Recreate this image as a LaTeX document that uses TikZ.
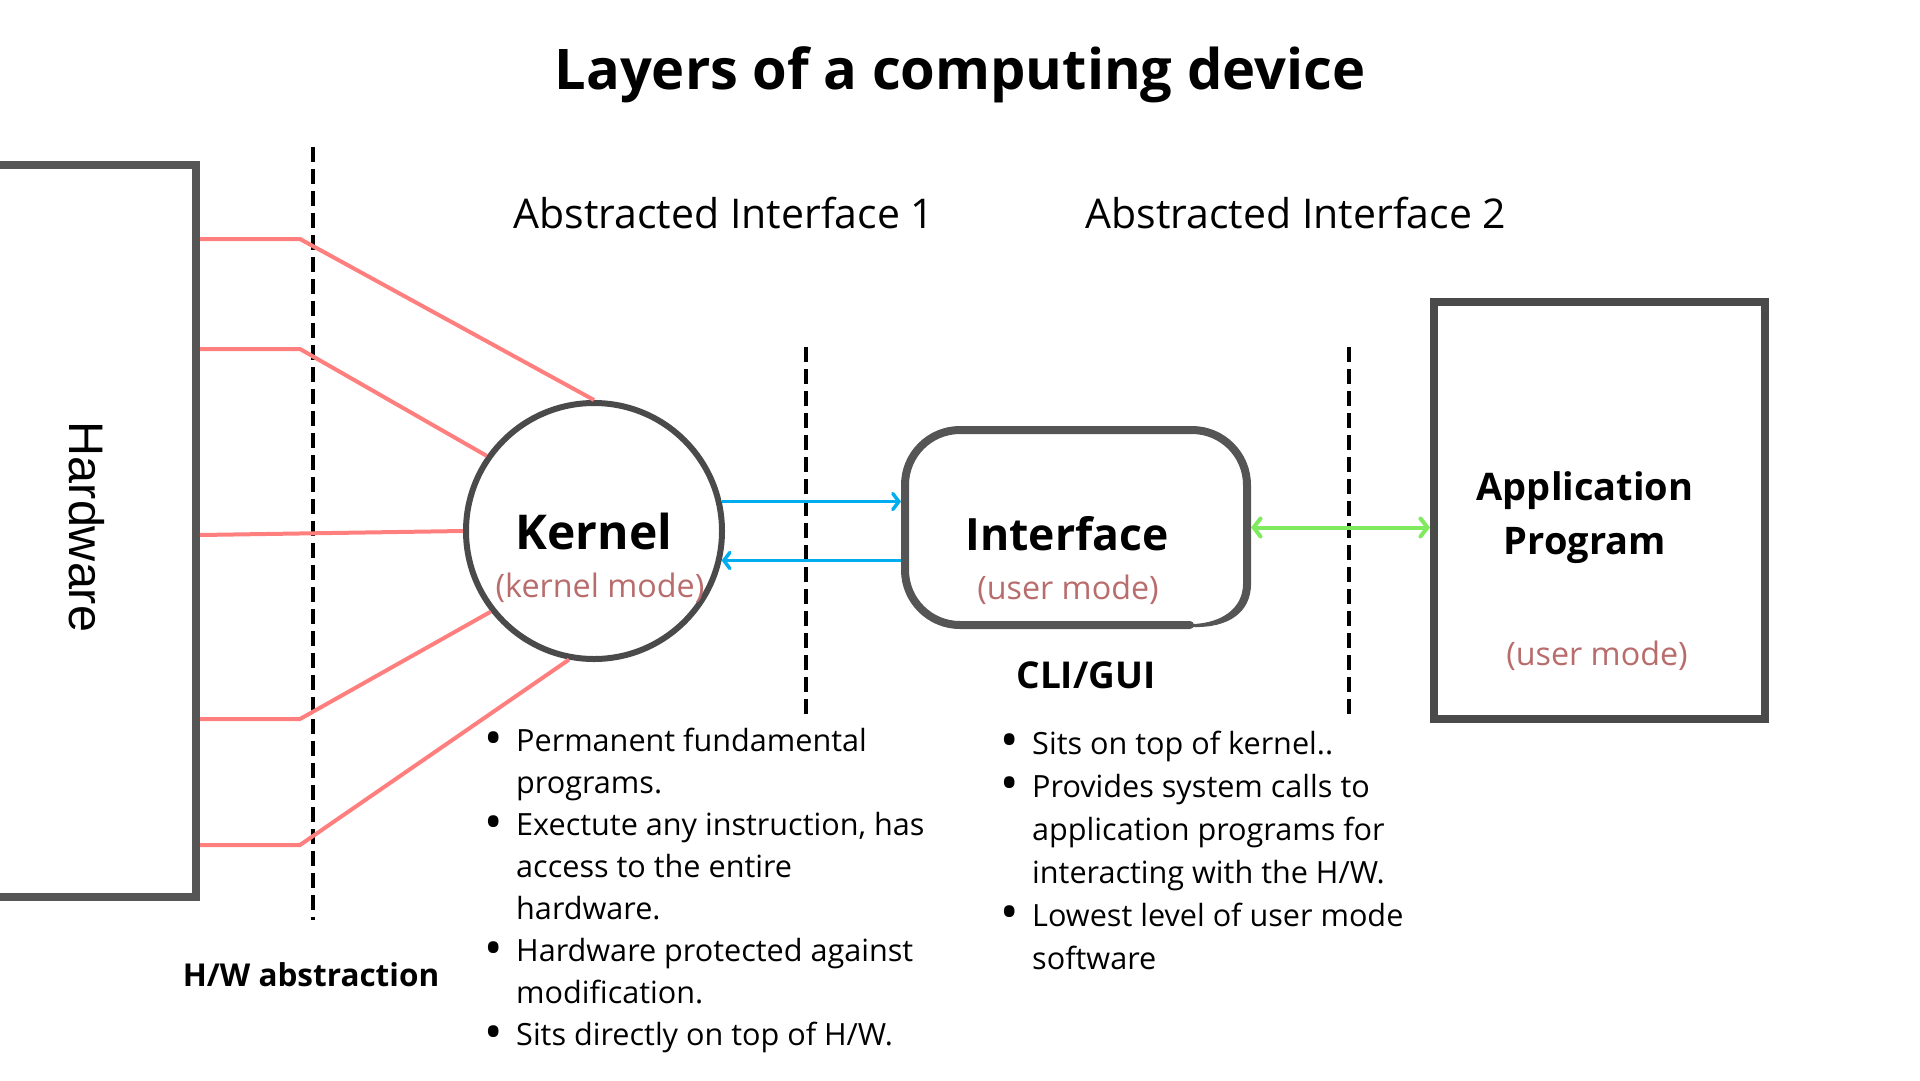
\documentclass[tikz,border=0pt]{standalone}
\usepackage{fontspec}
\setmainfont{Open Sans}
\newfontfamily\hwfont{Liberation Sans}
\usetikzlibrary{arrows.meta}
\definecolor{redl}{HTML}{FF7F7F}
\definecolor{grayA}{HTML}{4A4A4A}
\definecolor{grayB}{HTML}{555555}
\definecolor{bluel}{HTML}{00AEEF}
\definecolor{greenl}{HTML}{7FEA5E}
\definecolor{rose}{HTML}{B86C6C}
\newcommand{\bigbul}{\makebox[18pt]{\raisebox{-3.5pt}{\scalebox{1.6}{\textbullet}}}}
\begin{document}
\begin{tikzpicture}[x=1pt,y=-1pt,
  redline/.style={draw=redl,line width=4pt},
  dashline/.style={draw=black,line width=4pt,dash pattern=on 15pt off 7pt},
  bluearrow/.style={draw=bluel,line width=3.5pt,-{Straight Barb[length=6pt,width=16pt,line cap=round]}},
  greenarrow/.style={draw=greenl,line width=4pt,{Straight Barb[length=7pt,width=18pt,line cap=round]}-{Straight Barb[length=7pt,width=18pt,line cap=round]}},
  titletext/.style={font=\bfseries\fontsize{56}{60}\selectfont,anchor=base},
  abstext/.style={font=\fontsize{41}{46}\selectfont,anchor=base},
  modetext/.style={font=\fontsize{32.3}{36}\selectfont,text=rose,anchor=base},
  smallbold/.style={font=\bfseries\fontsize{31.5}{36}\selectfont,anchor=base},
  bullets/.style={anchor=north west,inner sep=0pt,align=left},
]
\useasboundingbox (0,0) rectangle (1920,1080);

% title
\node[titletext] (title) at (960,89) {Layers of a computing device};
\node[abstext] (abs1) at (724,228) {Abstracted Interface 1};
\node[abstext] (abs2) at (1296,228) {Abstracted Interface 2};

% hardware
\node[draw=grayB,line width=8pt,minimum width=226pt,minimum height=732pt,outer sep=4pt] (hw) at (83,531) {};
\node[font=\hwfont\fontsize{48.5}{52}\selectfont,rotate=-90] (hwlabel) at (87,527) {Hardware};

% dashed separators
\coordinate (d1t) at (313,147); \coordinate (d1b) at (313,920);
\coordinate (d2t) at (806,347); \coordinate (d2b) at (806,714);
\coordinate (d3t) at (1349,347); \coordinate (d3b) at (1349,718);
\draw[dashline] (d1t) -- (d1b);
\draw[dashline] (d2t) -- (d2b);
\draw[dashline] (d3t) -- (d3b);

% kernel
\node[circle,draw=grayA,line width=6pt,minimum size=256pt,outer sep=3pt] (kernel) at (594,531) {};
\node[font=\bfseries\fontsize{48}{52}\selectfont,anchor=base] (ktext) at (594,549) {Kernel};
\node[modetext] (kmode) at (600,597) {(kernel mode)};

% red links
\coordinate (h1) at (200,239); \coordinate (b1) at (300,239);
\coordinate (h2) at (200,349); \coordinate (b2) at (300,349);
\coordinate (h3) at (200,535);
\coordinate (h4) at (200,719); \coordinate (b4) at (300,719);
\coordinate (h5) at (200,845); \coordinate (b5) at (300,845);
\draw[redline] (h1) -- (b1) -- (kernel.90);
\draw[redline] (h2) -- (b2) -- (kernel.145);
\draw[redline] (h3) -- (kernel.180);
\draw[redline] (h4) -- (b4) -- (kernel.218);
\draw[redline] (h5) -- (b5) -- (kernel.259);

% interface
\node[minimum width=342pt,minimum height=195pt,outer sep=4pt] (int) at (1076,527.5) {};
\draw[draw=grayB,line width=8pt,rounded corners=55pt,line cap=round] (1247,585) -- (1247,430) -- (905,430) -- (905,625) -- (1190,625);
\fill[grayB] (1251,584) .. controls (1251,612) and (1229,628) .. (1193,627) -- (1193,624) .. controls (1222,623) and (1243,608) .. (1243,584) -- cycle;
\node[font=\bfseries\fontsize{44.5}{48}\selectfont,anchor=base] (itext) at (1067,550) {Interface};
\node[modetext] (imode) at (1068,599) {(user mode)};
\node[font=\bfseries\fontsize{37}{40}\selectfont,anchor=base] (cli) at (1086,688) {CLI/GUI};

% blue arrows
\draw[bluearrow] (kernel.13.5) -- (kernel.13.5 -| int.west);
\draw[bluearrow] (kernel.-13.5 -| int.west) -- (kernel.-13.5);

% application
\node[draw=grayA,line width=8pt,minimum width=331pt,minimum height=417pt,outer sep=4pt] (app) at (1599.5,510.5) {};
\node[font=\bfseries\fontsize{38}{54}\selectfont,align=center,anchor=base] (atext) at (1585,554) {Application\\Program};
\node[modetext] (amode) at (1597,665) {(user mode)};

% green arrow
\draw[greenarrow] (int.east) -- (int.east -| app.west);

% labels & bullets
\node[smallbold] (hwab) at (311,986) {H/W abstraction};
\node[bullets,font=\fontsize{30.6}{42}\selectfont] (klist) at (484,722) {%
\begin{tabular}{@{}c@{\hspace{14pt}}l@{}}
\bigbul & Permanent fundamental\\
 & programs.\\
\bigbul & Exectute any instruction, has\\
 & access to the entire\\
 & hardware.\\
\bigbul & Hardware protected against\\
 & modification.\\
\bigbul & Sits directly on top of H/W.
\end{tabular}};
\node[bullets,font=\fontsize{30.6}{43}\selectfont] (ilist) at (1000,724) {%
\begin{tabular}{@{}c@{\hspace{14pt}}l@{}}
\bigbul & Sits on top of kernel..\\
\bigbul & Provides system calls to\\
 & application programs for\\
 & interacting with the H/W.\\
\bigbul & Lowest level of user mode\\
 & software
\end{tabular}};
\end{tikzpicture}
\end{document}
